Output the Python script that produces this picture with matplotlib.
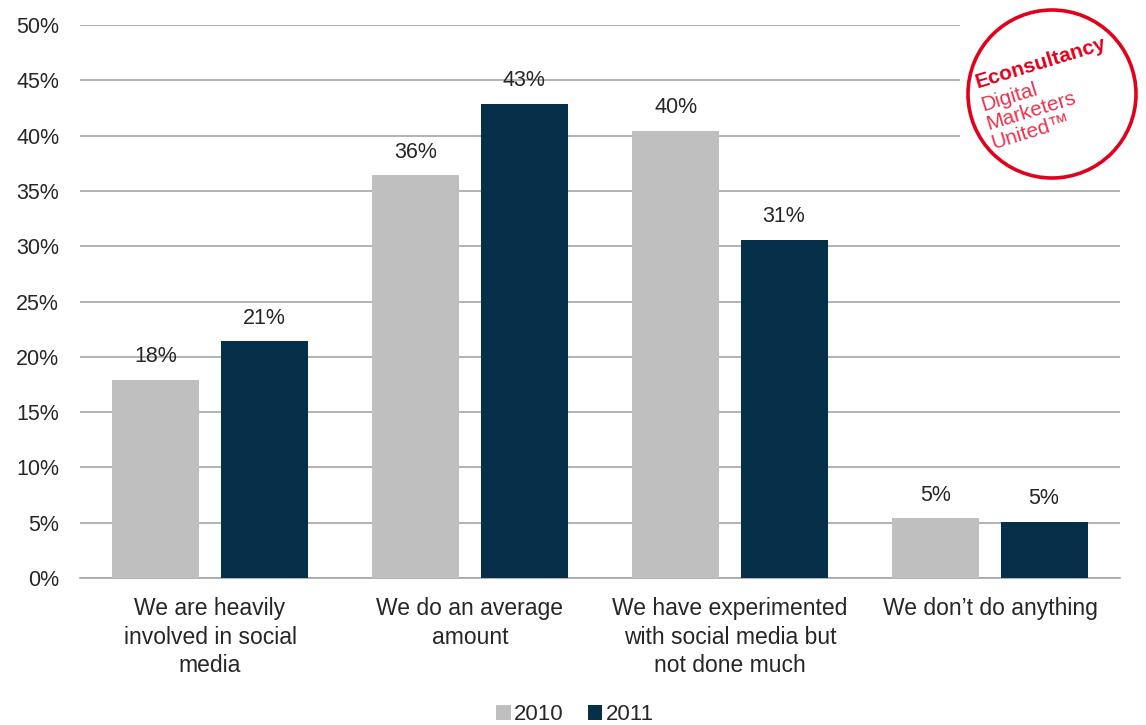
import matplotlib
matplotlib.use("Agg")
import matplotlib.pyplot as plt
import numpy as np
from matplotlib.patches import Circle, Rectangle

plt.rcParams['font.family'] = ['Liberation Sans', 'DejaVu Sans']

categories = ["We are heavily\ninvolved in social\nmedia", "We do an average\namount",
              "We have experimented\nwith social media but\nnot done much", "We don\u2019t do anything"]
series_names = ["2010", "2011"]
values_2010 = [17.9, 36.4, 40.4, 5.4]
values_2011 = [21.4, 42.9, 30.6, 5.1]
yticks = [0, 5, 10, 15, 20, 25, 30, 35, 40, 45, 50]

c2010 = "#BFBFBF"
c2011 = "#06304A"
textc = "#262626"

fig = plt.figure(figsize=(11.46, 7.25), dpi=100)
ax = fig.add_axes([80/1146, 1-578/725, 1040/1146, (578-25)/725])

x = np.arange(len(categories))
w = 0.335
off = 0.208
b1 = ax.bar(x - off, values_2010, w, color=c2010, label=series_names[0], zorder=3)
b2 = ax.bar(x + off, values_2011, w, color=c2011, label=series_names[1], zorder=3)
for bars, vals in ((b1, values_2010), (b2, values_2011)):
    for r, v in zip(bars, vals):
        ax.text(r.get_x() + r.get_width()/2, v + 1.15, f"{v:.0f}%", ha="center", va="bottom",
                fontsize=15.5, color=textc)

ax.set_xlim(-0.5, len(categories) - 0.5)
ax.set_ylim(0, 50)
ax.set_yticks(yticks)
ax.set_yticklabels([f"{t}%" for t in yticks], fontsize=15.5, color=textc)
ax.yaxis.grid(True, color="#A6A6A6", linewidth=1.2, zorder=0)
ax.set_xticks(x)
ax.set_xticklabels(categories, fontsize=16.5, color=textc, linespacing=1.3)
ax.tick_params(axis="both", length=0)
ax.tick_params(axis="y", pad=15)
ax.tick_params(axis="x", pad=14)
for s in ["top", "right", "left"]:
    ax.spines[s].set_visible(False)
ax.spines["bottom"].set_color("#A6A6A6")
ax.spines["bottom"].set_linewidth(1.2)

leg = fig.legend(handles=[b1, b2], labels=series_names, loc="center", bbox_to_anchor=(575/1146, 1-715/725),
                 ncol=2, frameon=False, fontsize=16, handlelength=0.65, handleheight=0.65,
                 handletextpad=0.15, columnspacing=1.1)
for t in leg.get_texts():
    t.set_color(textc)

# Logo
red = "#E2001A"
pink = "#E8334F"
lx, ly, lr = 1052, 94, 84
logo_ax = fig.add_axes([0, 0, 1, 1], zorder=10)
logo_ax.set_xlim(0, 1146)
logo_ax.set_ylim(725, 0)
logo_ax.axis("off")
logo_ax.add_patch(Rectangle((960, 14), 186, 160, facecolor="white", edgecolor="none"))
logo_ax.add_patch(Circle((lx, ly), lr, facecolor="white", edgecolor=red, linewidth=2.6))
rot = 17
logo_ax.text(977, 88, "Econsultancy", color=red, fontsize=15, fontweight="bold",
             rotation=rot, ha="left", va="baseline", rotation_mode="anchor")
logo_ax.text(983, 111, "Digital", color=pink, fontsize=15, rotation=rot, ha="left", va="baseline",
             rotation_mode="anchor")
logo_ax.text(988, 130, "Marketers", color=pink, fontsize=15, rotation=rot, ha="left", va="baseline",
             rotation_mode="anchor")
logo_ax.text(993, 149, "United\u2122", color=pink, fontsize=15, rotation=rot, ha="left", va="baseline",
             rotation_mode="anchor")

fig.savefig("out.png", dpi=100, facecolor="white")
